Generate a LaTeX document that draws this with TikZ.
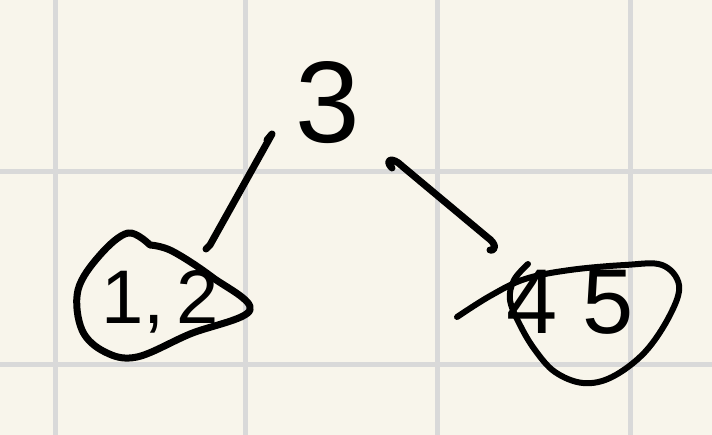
\documentclass[tikz,border=0pt]{standalone}
\usepackage{fontspec}
\setmainfont{Liberation Sans}
\definecolor{paper}{HTML}{F8F5EB}
\definecolor{gridc}{HTML}{D9D9D9}
\tikzset{
  gridline/.style={draw=gridc,line width=5pt},
  ink/.style={draw=black,line width=7pt,line cap=round,line join=round},
  digit/.style={inner sep=0pt,text=black},
}
\begin{document}
\begin{tikzpicture}[x=1pt,y=-1pt]
\fill[paper] (0,0) rectangle (712,435);
\useasboundingbox (0,0) rectangle (712,435);
% grid
\foreach \gx in {55,245,437,630} \draw[gridline] (\gx,0) -- (\gx,435);
\foreach \gy in {172,365} \draw[gridline] (0,\gy) -- (712,\gy);
% labels
\node[digit,font=\fontsize{116}{116}\selectfont] (n3) at (328,103) {3};
\node[digit,font=\fontsize{76}{76}\selectfont] (n12) at (160,302) {1,\kern12pt2};
\node[digit,font=\fontsize{92}{92}\selectfont] (n45) at (570,302) {4 5};
% left blob
\draw[ink] plot[smooth,tension=0.6] coordinates {(150,245) (128,233) (100,255) (78,290) (82,330) (105,352) (137,357) (190,334) (250,310) (212,277) (172,251) (150,245)};
% right loop with tail
\draw[ink,line width=6pt] plot[smooth,tension=0.6] coordinates {(457,317) (490,296) (525,279) (570,270) (625,265) (662,265) (679,285) (670,315) (645,352) (612,377) (583,383) (555,372) (535,350) (520,325) (510,300) (514,280) (528,264)};
% connectors
\coordinate (e1s) at (272,134);
\coordinate (e1e) at (210,245);
\coordinate (e2s) at (392,168);
\coordinate (e2e) at (490,250);
\draw[ink] (267,140) -- (e1s) -- (e1e) -- (206,249);
\draw[ink] (e2s) .. controls (384,160) and (392,156) .. (402,166) -- (487,237) .. controls (497,244) and (496,251) .. (e2e);
\end{tikzpicture}
\end{document}
